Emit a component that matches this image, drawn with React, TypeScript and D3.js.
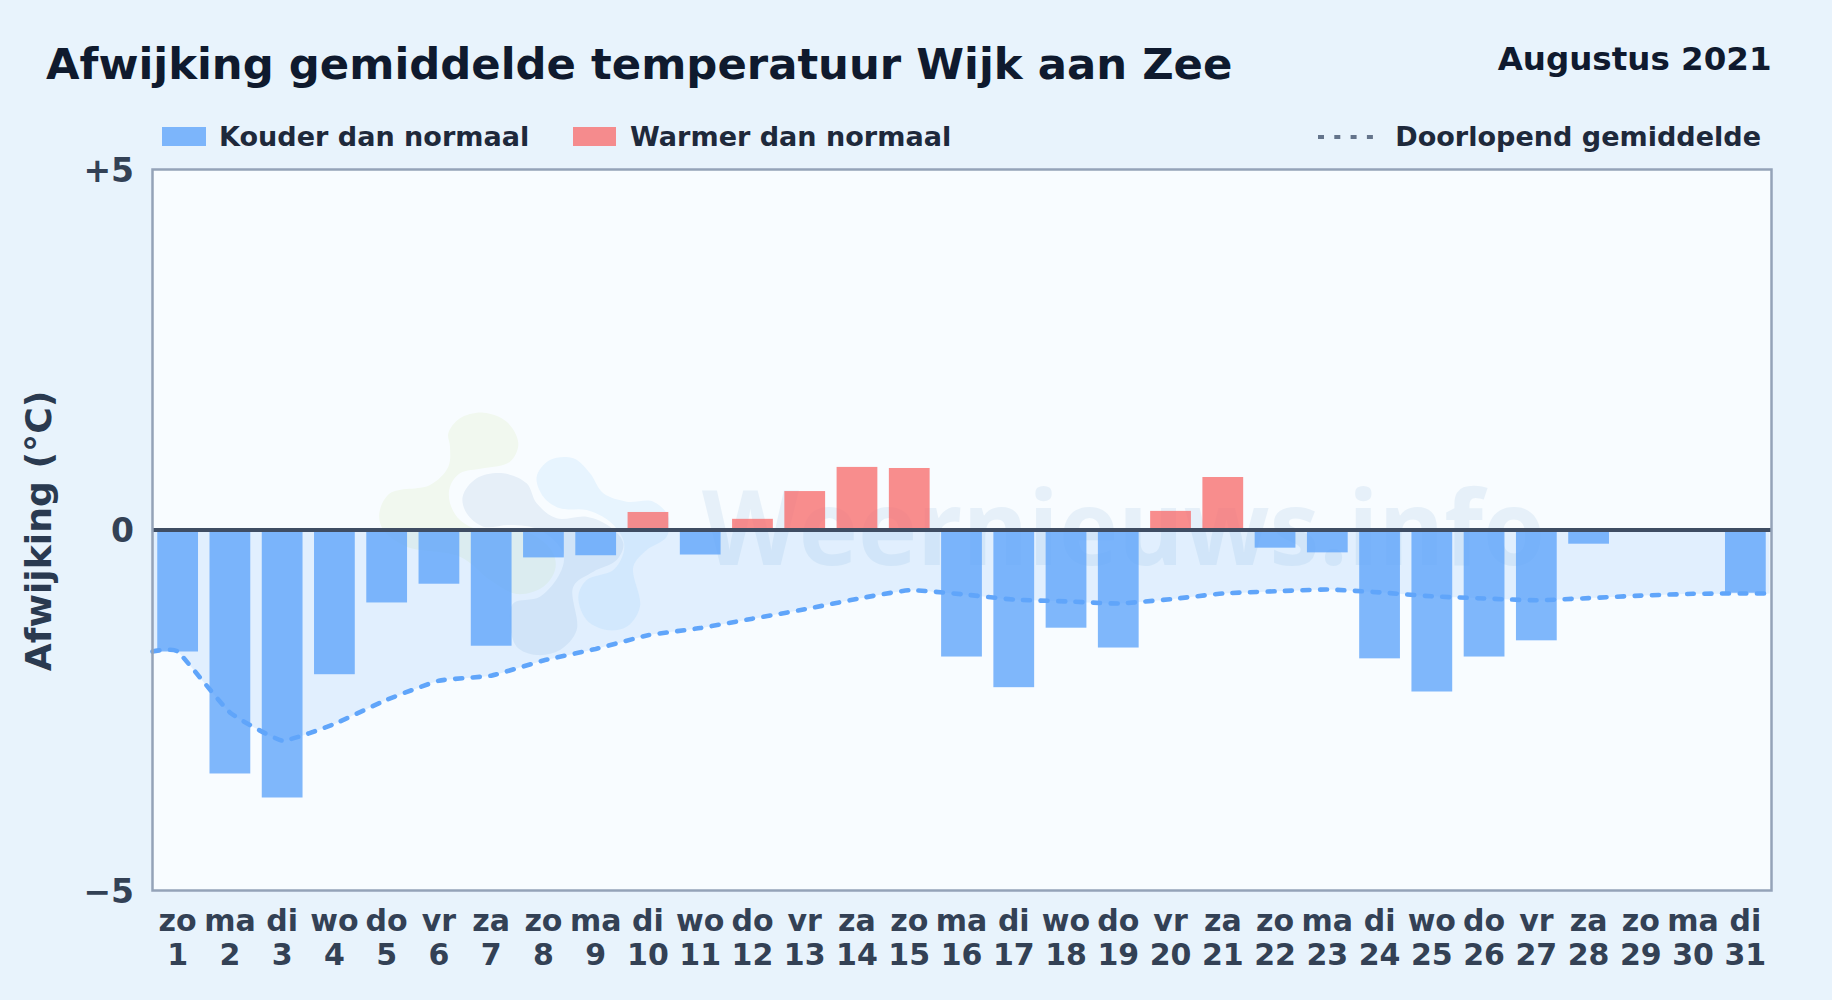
import React from "react";
import * as d3 from "d3";

const days = d3.range(1, 32);
const weekdays = ["zo","ma","di","wo","do","vr","za","zo","ma","di","wo","do","vr","za","zo","ma","di","wo","do","vr","za","zo","ma","di","wo","do","vr","za","zo","ma","di"];
const deviations: (number | null)[] = [-1.685,-3.377,-3.71,-2.0,-1.005,-0.745,-1.605,-0.38,-0.35,0.25,-0.34,0.155,0.54,0.875,0.86,-1.755,-2.18,-1.355,-1.63,0.265,0.735,-0.245,-0.31,-1.78,-2.24,-1.755,-1.53,-0.19,null,null,-0.87];
const runningMean = [-1.685,-2.53,-2.92,-2.69,-2.355,-2.09,-2.02,-1.81,-1.65,-1.46,-1.36,-1.23,-1.10,-0.955,-0.835,-0.89,-0.965,-0.99,-1.02,-0.96,-0.88,-0.85,-0.825,-0.865,-0.92,-0.95,-0.975,-0.945,-0.91,-0.885,-0.88];
const yTicks = [5, 0, -5];
const yTickLabels = ["+5", "0", "−5"];

// watermark logo outlines (decoration, no data)
const blobGreen: [number, number][] = [[265,130],[300,85],[370,68],[440,95],[475,160],[450,215],[370,235],[300,250],[270,290],[270,340],[300,390],[360,420],[460,415],[530,440],[580,490],[585,540],[550,590],[470,612],[390,570],[300,500],[140,470],[70,420],[58,370],[90,310],[210,285],[265,230],[270,170]];
const blobGrey: [number, number][] = [[308,320],[350,265],[430,250],[500,280],[530,340],[590,385],[680,380],[750,410],[790,460],[770,510],[700,545],[640,590],[650,720],[600,780],[530,795],[470,770],[450,700],[460,640],[540,620],[600,550],[610,490],[540,420],[450,405],[370,410],[320,370]];
const blobBlue: [number, number][] = [[530,260],[570,210],[640,205],[690,250],[730,310],[800,335],[880,335],[925,380],[920,440],[860,480],[820,530],[840,650],[800,710],[740,720],[680,690],[655,620],[680,570],[760,540],[790,490],[790,450],[750,395],[680,360],[600,355],[550,320]];

const W = 1832, H = 1000;
const L = 152.5, R = 1771.5, T = 169.5, B = 890.5;
const font = "'DejaVu Sans', sans-serif";

export default function App() {
  const x = d3.scaleBand<number>().domain(days).range([L - 1, R]).paddingInner(0.22).paddingOuter(0.11);
  const y = d3.scaleLinear().domain([-5, 5]).range([B, T]);
  const cx = (d: number) => (x(d) as number) + x.bandwidth() / 2;
  const pts: [number, number][] = [
    [L, runningMean[0]],
    ...days.map((d, i) => [cx(d), runningMean[i]] as [number, number]),
    [R - 2, runningMean[30]],
  ];
  const curve = d3.curveCardinal.tension(0.6);
  const line = d3.line<[number, number]>().x(d => d[0]).y(d => y(d[1])).curve(curve);
  const area = d3.area<[number, number]>().x(d => d[0]).y0(y(0)).y1(d => y(d[1])).curve(curve);
  const blob = d3.line<[number, number]>().x(d => 360 + d[0] / 3).y(d => 390 + d[1] / 3).curve(d3.curveCatmullRomClosed.alpha(0.5));
  return (
    <svg width={W} height={H} viewBox={`0 0 ${W} ${H}`} style={{ position: "absolute", left: 0, top: 0, display: "block" }}>
      <rect x={0} y={0} width={W} height={H} fill="#e8f3fc" />
      <text x={46} y={79} fontFamily={font} fontWeight={700} fontSize={43.35} fill="#0f1a2e">Afwijking gemiddelde temperatuur Wijk aan Zee</text>
      <text x={1771.5} y={70} textAnchor="end" fontFamily={font} fontWeight={700} fontSize={32.5} fill="#0f1a2e">Augustus 2021</text>

      <rect x={162} y={127} width={44} height={19} fill="#60a5fa" opacity={0.8} />
      <text x={219} y={146} fontFamily={font} fontWeight={700} fontSize={27.05} fill="#1e293b">Kouder dan normaal</text>
      <rect x={573} y={127} width={43} height={19} fill="#f87171" opacity={0.8} />
      <text x={630} y={146} fontFamily={font} fontWeight={700} fontSize={27.05} fill="#1e293b">Warmer dan normaal</text>
      <line x1={1318} x2={1375} y1={137} y2={137} stroke="#64748b" strokeWidth={4} strokeDasharray="6 10.3" />
      <text x={1761} y={146} textAnchor="end" fontFamily={font} fontWeight={700} fontSize={27.05} fill="#1e293b">Doorlopend gemiddelde</text>

      <rect x={L} y={T} width={R - L} height={B - T} fill="#f8fcff" />
      <g>
        <path d={blob(blobGreen) ?? ""} fill="#f1f8ef" />
        <path d={blob(blobBlue) ?? ""} fill="#e7f4fe" />
        <path d={blob(blobGrey) ?? ""} fill="#e6eff8" />
        <text x={702} y={565} fontFamily="'Open Sans', sans-serif" fontWeight={700} fontSize={104} fill="#3b82c4" opacity={0.09} textLength={843} lengthAdjust="spacingAndGlyphs">Weernieuws.info</text>
      </g>
      <path d={area(pts) ?? ""} fill="#60a5fa" opacity={0.15} />
      {days.map((d, i) => {
        const v = deviations[i];
        if (v == null) return null;
        return <rect key={d} x={x(d)} width={x.bandwidth()} y={y(Math.max(v, 0))} height={Math.abs(y(v) - y(0))} fill={v < 0 ? "#60a5fa" : "#f87171"} opacity={0.8} />;
      })}
      <path d={line(pts) ?? ""} fill="none" stroke="#60a5fa" strokeWidth={4.6} strokeLinecap="round" strokeDasharray="7 10.5" />
      <line x1={L} x2={R} y1={y(0)} y2={y(0)} stroke="#3f4d63" strokeWidth={4} />
      <rect x={L} y={T} width={R - L} height={B - T} fill="none" stroke="#94a3b8" strokeWidth={2.5} />

      {yTicks.map((t, i) => (
        <text key={t} x={134} y={y(t) + 12} textAnchor="end" fontFamily={font} fontWeight={700} fontSize={33} fill="#334155">{yTickLabels[i]}</text>
      ))}
      <text transform={`translate(51,531) rotate(-90)`} textAnchor="middle" fontFamily={font} fontWeight={700} fontSize={36.2} fill="#2a3a50">Afwijking (°C)</text>
      {days.map((d, i) => (
        <g key={d} fontFamily={font} fontWeight={700} fontSize={30} fill="#334155" textAnchor="middle">
          <text x={cx(d)} y={931}>{weekdays[i]}</text>
          <text x={cx(d)} y={965}>{d}</text>
        </g>
      ))}
    </svg>
  );
}
